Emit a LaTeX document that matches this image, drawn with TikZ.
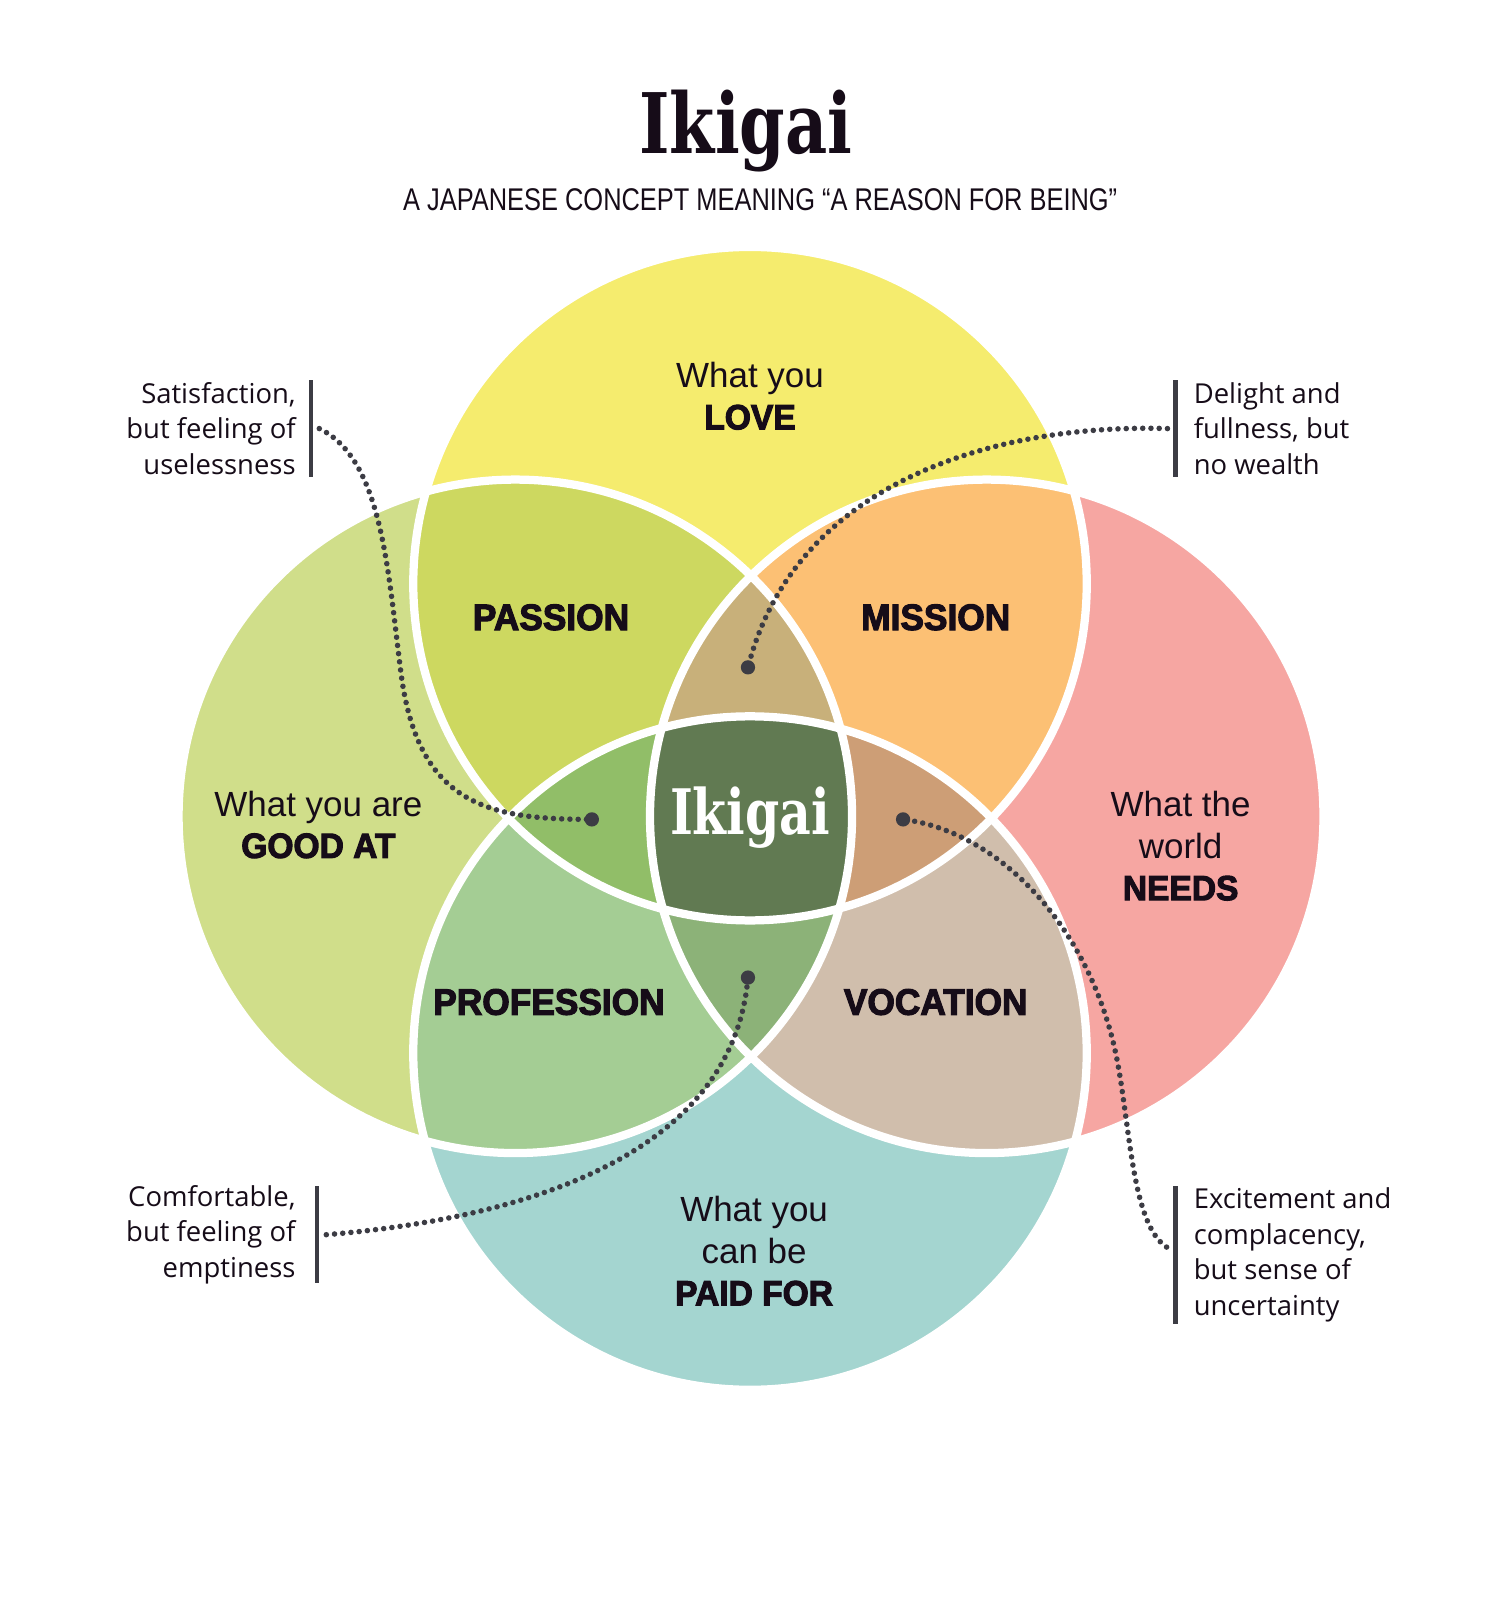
\documentclass[tikz,border=0pt]{standalone}
\usepackage{fontspec}
\setmainfont{Liberation Sans}
\newfontfamily\heavyfont{Liberation Sans}[FakeStretch=0.96,BoldFeatures={FakeBold=3}]
\newfontfamily\slabfont{DejaVu Serif}[FakeStretch=0.78]
\newfontfamily\notefont{Open Sans}
\newfontfamily\capsfont{Liberation Sans}[FakeStretch=0.81]
\usepackage{tikz}
\usetikzlibrary{positioning}
\definecolor{ikyellow}{RGB}{245,236,110}
\definecolor{iklime}{RGB}{208,222,138}
\definecolor{ikpink}{RGB}{246,166,162}
\definecolor{ikteal}{RGB}{164,213,208}
\definecolor{ikpassion}{RGB}{205,216,96}
\definecolor{ikmission}{RGB}{252,192,116}
\definecolor{ikprofession}{RGB}{164,205,148}
\definecolor{ikvocation}{RGB}{208,190,172}
\definecolor{iktriT}{RGB}{200,176,122}
\definecolor{iktriL}{RGB}{145,190,104}
\definecolor{iktriR}{RGB}{205,158,118}
\definecolor{iktriB}{RGB}{140,178,120}
\definecolor{ikcore}{RGB}{97,122,82}
\definecolor{ikink}{RGB}{22,12,24}
\definecolor{iknote}{RGB}{60,60,68}
\newcommand{\ikirad}{330}
\newcommand{\ikiheavy}[1]{{\heavyfont\bfseries #1}}

\begin{document}
\begin{tikzpicture}[x=0.02cm,y=-0.02cm,
  areatext/.style={font=\fontsize{19.5}{23.3}\selectfont,align=center,inner sep=0pt,text=ikink},
  zone/.style={font=\heavyfont\bfseries\fontsize{20.5}{23.3}\selectfont,inner sep=0pt,text=ikink},
  note/.style={font=\notefont\fontsize{15.3}{19.8}\selectfont,inner sep=0pt,text=ikink},
  notebar/.style={draw=iknote,line width=2.3pt},
  dotline/.style={draw=iknote,line width=3.1pt,dash pattern=on 0pt off 4.6pt,line cap=round},
  outline/.style={draw=white,line width=4.6pt}]
  \fill[white](0,0)rectangle(1470,1568);
  % circle centres
  \coordinate (cT) at (735,572);
  \coordinate (cB) at (735,1032);
  \coordinate (cL) at (505,800);
  \coordinate (cR) at (967,800);
  % single circles
  \fill[ikyellow](cT)circle(\ikirad);
  \fill[iklime](cL)circle(\ikirad);
  \fill[ikpink](cR)circle(\ikirad);
  \fill[ikteal](cB)circle(\ikirad);
  % pairs
  \foreach \a/\b/\col in {cT/cL/ikpassion,cT/cR/ikmission,cB/cL/ikprofession,cB/cR/ikvocation}{%
    \begin{scope}
      \clip(\a)circle(\ikirad);
      \fill[\col](\b)circle(\ikirad);
    \end{scope}
  }
  % triples
  \foreach \a/\b/\c/\col in {cL/cR/cT/iktriT,cL/cR/cB/iktriB,cT/cB/cL/iktriL,cT/cB/cR/iktriR}{%
    \begin{scope}
      \clip(\a)circle(\ikirad);
      \clip(\b)circle(\ikirad);
      \fill[\col](\c)circle(\ikirad);
    \end{scope}
  }
  \begin{scope}
    \clip(cT)circle(\ikirad);
    \clip(cB)circle(\ikirad);
    \clip(cL)circle(\ikirad);
    \fill[ikcore](cR)circle(\ikirad);
  \end{scope}
  \foreach \c in {cT,cL,cR,cB}{%
    \draw[outline](\c)circle(\ikirad);
  }
  % title
  \node[anchor=base,inner sep=0pt,text=ikink,font=\slabfont\bfseries\fontsize{46.6}{50}\selectfont]
    (title) at (731,150) {Ikigai};
  \node[anchor=base,inner sep=0pt,text=ikink,font=\capsfont\fontsize{17.5}{20}\selectfont]
    (subtitle) at (745,206) {A JAPANESE CONCEPT MEANING “A REASON FOR BEING”};
  % circle texts
  \node[areatext] (love) at (735,388) {What you\\\ikiheavy{LOVE}};
  \node[areatext] (goodat) at (312,808) {What you are\\\ikiheavy{GOOD AT}};
  \node[areatext] (needs) at (1157,829) {What the\\world\\\ikiheavy{NEEDS}};
  \node[areatext] (paidfor) at (739,1226) {What you\\can be\\\ikiheavy{PAID FOR}};
  \node[zone] (passion) at (540,605) {PASSION};
  \node[zone] (mission) at (917,605) {MISSION};
  \node[zone] (profession) at (538,982) {PROFESSION};
  \node[zone] (vocation) at (917,982) {VOCATION};
  \node[anchor=base,inner sep=0pt,text=white,font=\slabfont\bfseries\fontsize{35}{40}\selectfont]
    (core) at (735,818) {Ikigai};
  % side notes
  \coordinate (satbar) at (305,420);
  \coordinate (delbar) at (1152,420);
  \coordinate (combar) at (311,1210);
  \coordinate (excbar) at (1152,1230);
  \node[note,align=right,left=8.5pt of satbar] (sat) {Satisfaction,\\but feeling of\\uselessness};
  \node[note,align=left,right=10pt of delbar] (del) {Delight and\\fullness, but\\no wealth};
  \node[note,align=right,left=12pt of combar] (com) {Comfortable,\\but feeling of\\emptiness};
  \node[note,align=left,right=10pt of excbar] (exc) {Excitement and\\complacency,\\but sense of\\uncertainty};
  \draw[notebar]([yshift=27pt]satbar)--([yshift=-27pt]satbar);
  \draw[notebar]([yshift=27pt]delbar)--([yshift=-27pt]delbar);
  \draw[notebar]([yshift=27pt]combar)--([yshift=-27pt]combar);
  \draw[notebar]([yshift=38.5pt]excbar)--([yshift=-38.5pt]excbar);
  % dotted leaders
  \coordinate (dotL) at (580,803);
  \coordinate (dotT) at (733,654);
  \coordinate (dotB) at (733,958);
  \coordinate (dotR) at (885,803);
  \draw[dotline]([xshift=4.5pt]satbar)..controls(375,450)and(380,560)..(393,660)
    ..controls(410,790)and(480,803)..(dotL);
  \draw[dotline]([xshift=-4.5pt]delbar)..controls(980,415)and(780,470)..(dotT);
  \draw[dotline]([xshift=5pt]combar)..controls(560,1190)and(720,1110)..(dotB);
  \draw[dotline]([xshift=-5pt,yshift=4.5pt]excbar)..controls(1110,1200)and(1108,1110)..(1095,1040)
    ..controls(1070,910)and(980,815)..(dotR);
  \foreach \d in {dotL,dotT,dotB,dotR}{%
    \fill[iknote](\d)circle(7);
  }
\end{tikzpicture}
\end{document}
